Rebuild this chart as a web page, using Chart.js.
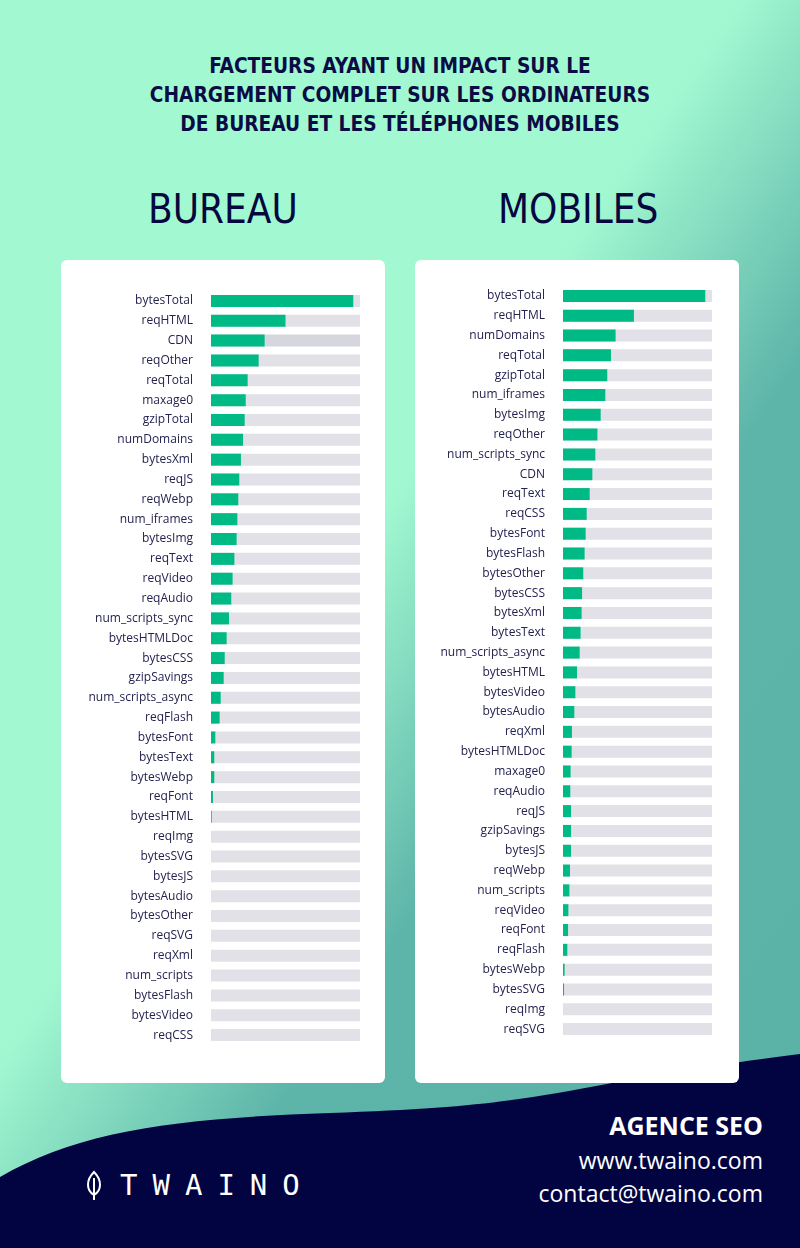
<!DOCTYPE html>
<html>
<head>
<meta charset="utf-8">
<script src="https://cdn.jsdelivr.net/npm/chart.js@4"></script>
<style>
  html, body { margin: 0; padding: 0; }
  body {
    width: 800px; height: 1248px; position: relative; overflow: hidden;
    background: linear-gradient(125deg, #a2f9d1 0%, #a2f9d1 44%, #5db4a9 63%, #5ab2a6 100%);
    font-family: "DejaVu Sans Condensed", "Liberation Sans Narrow", sans-serif;
  }
  .title {
    position: absolute; left: 0; top: 52px; width: 800px; text-align: center;
    color: #0b0b45; font-weight: bold; font-size: 20.7px; line-height: 29px;
  }
  .head {
    position: absolute; top: 185px; color: #06073f; font-size: 40px; line-height: 48px;
  }
  .card {
    position: absolute; top: 260px; width: 324px; height: 823px;
    background: #fff; border-radius: 6px;
  }
  .card canvas { position: absolute; left: 0; top: 0; }
  svg.wave { position: absolute; left: 0; top: 0; }
  .footer-r {
    position: absolute; right: 37px; text-align: right; color: #fff;
    font-family: "Open Sans", sans-serif;
  }
  .logo {
    position: absolute; left: 120px; top: 1168px; color: #fff;
    font-family: "DejaVu Sans Mono", monospace; font-size: 29px; letter-spacing: 15px;
  }
</style>
</head>
<body>
<div class="title">FACTEURS AYANT UN IMPACT SUR LE<br>CHARGEMENT COMPLET SUR LES ORDINATEURS<br>DE BUREAU ET LES TÉLÉPHONES MOBILES</div>
<div class="head" style="left:148px">BUREAU</div>
<div class="head" style="left:498px">MOBILES</div>

<svg class="wave" width="800" height="1248">
  <path d="M0 1177 C 80 1130, 180 1118, 330 1113 S 520 1100, 612 1083 S 740 1062, 800 1054 L 800 1248 L 0 1248 Z" fill="#020442"/>
  <path d="M94 1172 C 86 1180, 86 1190, 94 1195 C 102 1190, 102 1180, 94 1172 Z M94 1178 L94 1200" fill="none" stroke="#fff" stroke-width="2"/>
</svg>

<div class="card" style="left:61px"><canvas id="bureau" width="324" height="823"></canvas></div>
<div class="card" style="left:415px"><canvas id="mobiles" width="324" height="823"></canvas></div>

<div class="logo">TWAINO</div>
<div class="footer-r" style="top:1108px;font-size:25px;font-weight:bold;">AGENCE SEO</div>
<div class="footer-r" style="top:1144px;font-size:23px;">www.twaino.com</div>
<div class="footer-r" style="top:1177px;font-size:23px;">contact@twaino.com</div>

<script>
const bureauLabels = ['bytesTotal', 'reqHTML', 'CDN', 'reqOther', 'reqTotal', 'maxage0', 'gzipTotal',
  'numDomains', 'bytesXml', 'reqJS', 'reqWebp', 'num_iframes', 'bytesImg', 'reqText', 'reqVideo',
  'reqAudio', 'num_scripts_sync', 'bytesHTMLDoc', 'bytesCSS', 'gzipSavings', 'num_scripts_async',
  'reqFlash', 'bytesFont', 'bytesText', 'bytesWebp', 'reqFont', 'bytesHTML', 'reqImg', 'bytesSVG',
  'bytesJS', 'bytesAudio', 'bytesOther', 'reqSVG', 'reqXml', 'num_scripts', 'bytesFlash',
  'bytesVideo', 'reqCSS'];
const bureauValues = [95.5, 50, 36, 32, 24.6, 23.3, 22.6, 21.5, 20.1, 19, 18.3, 17.7, 17.2, 15.7,
  14.5, 13.6, 12.1, 10.5, 9.2, 8.5, 6.5, 5.8, 2.9, 2.2, 2.2, 1.3, 0.5, 0, 0, 0, 0, 0, 0, 0, 0, 0, 0, 0];

const mobileLabels = ['bytesTotal', 'reqHTML', 'numDomains', 'reqTotal', 'gzipTotal', 'num_iframes',
  'bytesImg', 'reqOther', 'num_scripts_sync', 'CDN', 'reqText', 'reqCSS', 'bytesFont', 'bytesFlash',
  'bytesOther', 'bytesCSS', 'bytesXml', 'bytesText', 'num_scripts_async', 'bytesHTML', 'bytesVideo',
  'bytesAudio', 'reqXml', 'bytesHTMLDoc', 'maxage0', 'reqAudio', 'reqJS', 'gzipSavings', 'bytesJS',
  'reqWebp', 'num_scripts', 'reqVideo', 'reqFont', 'reqFlash', 'bytesWebp', 'bytesSVG', 'reqImg', 'reqSVG'];
const mobileValues = [95.5, 47.6, 35.3, 32.2, 29.7, 28.4, 25.3, 23.1, 21.7, 19.7, 17.9, 15.9, 15.2,
  14.5, 13.6, 12.8, 12.5, 11.8, 11.2, 9.4, 8.3, 7.6, 6, 5.8, 5.1, 4.9, 5.4, 5.4, 5.4, 4.7, 4.3, 3.6,
  3.4, 2.9, 1.1, 0.7, 0, 0];

const maxValue = 100;

function makeChart(id, labels, values, axisWidth, pad) {
  new Chart(document.getElementById(id), {
    type: 'bar',
    data: {
      labels: labels,
      datasets: [{
        data: values,
        backgroundColor: '#00ba86',
        barThickness: 12,
        inflateAmount: 0,
        grouped: false
      }, {
        data: labels.map(() => maxValue),
        backgroundColor: labels.map(l => (id === 'bureau' && l === 'CDN') ? '#d6d6df' : '#e1e1e7'),
        barThickness: 12,
        inflateAmount: 0,
        grouped: false
      }]
    },
    options: {
      indexAxis: 'y',
      responsive: false,
      animation: false,
      layout: { padding: pad },
      plugins: {
        legend: { display: false },
        tooltip: { enabled: false }
      },
      scales: {
        x: { display: false, min: 0, max: maxValue },
        y: {
          grid: { display: false },
          border: { display: false },
          ticks: {
            color: '#24234f',
            padding: 10,
            autoSkip: false,
            font: { family: 'Open Sans', size: 12 }
          },
          afterFit: s => { s.width = axisWidth; }
        }
      }
    }
  });
}

makeChart('bureau', bureauLabels, bureauValues, 150, { top: 31, bottom: 38, right: 25, left: 0 });
makeChart('mobiles', mobileLabels, mobileValues, 148, { top: 26, bottom: 44, right: 27, left: 0 });
</script>
</body>
</html>
